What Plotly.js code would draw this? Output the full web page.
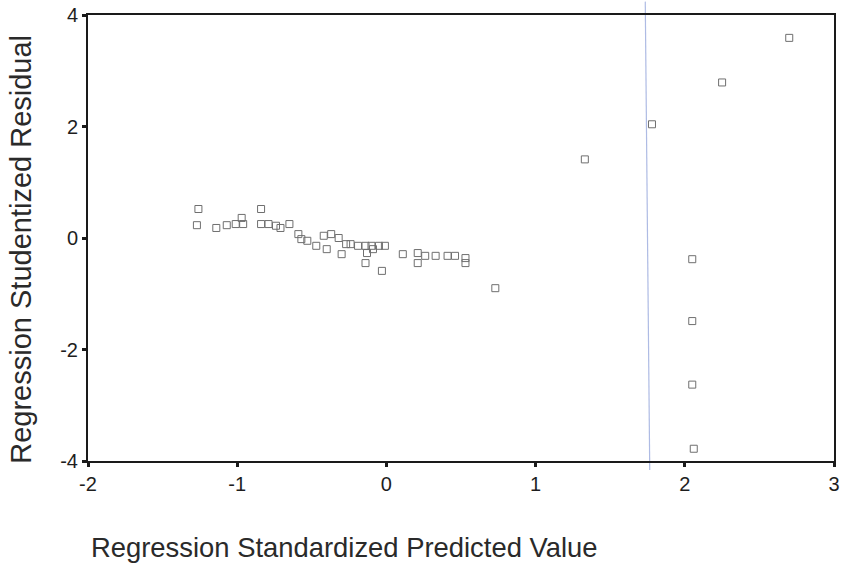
<!DOCTYPE html>
<html>
<head>
<meta charset="utf-8">
<script src="https://cdn.plot.ly/plotly-3.0.1.min.js"></script>
<style>
  html, body { margin: 0; padding: 0; background: #ffffff; }
  #chart { width: 842px; height: 563px; }
</style>
</head>
<body>
<div id="chart"></div>
<script>
// Regression Standardized Predicted Value (x) vs Regression Studentized Residual (y)
var predictedValue = [
  -1.26, -1.27, -1.14, -1.07, -1.01, -0.97, -0.96, -0.84, -0.84, -0.79,
  -0.74, -0.71, -0.65, -0.59, -0.57, -0.53, -0.47, -0.42, -0.40, -0.37,
  -0.32, -0.30, -0.27, -0.24, -0.19, -0.14, -0.13, -0.14, -0.10, -0.09,
  -0.05, -0.01, -0.03, 0.11, 0.21, 0.21, 0.26, 0.33, 0.41, 0.46,
  0.53, 0.53, 0.73, 1.33, 1.78, 2.25, 2.70, 2.05, 2.05, 2.05, 2.06
];
var studentizedResidual = [
  0.52, 0.23, 0.18, 0.23, 0.25, 0.36, 0.25, 0.52, 0.25, 0.25,
  0.22, 0.18, 0.25, 0.07, -0.02, -0.05, -0.14, 0.04, -0.20, 0.07,
  0.00, -0.29, -0.11, -0.11, -0.14, -0.14, -0.27, -0.45, -0.14, -0.20,
  -0.14, -0.14, -0.59, -0.29, -0.27, -0.45, -0.32, -0.32, -0.32, -0.32,
  -0.36, -0.45, -0.90, 1.41, 2.04, 2.79, 3.59, -0.38, -1.49, -2.63, -3.78
];
var xTickValues = [-2, -1, 0, 1, 2, 3];
var yTickValues = [-4, -2, 0, 2, 4];
var xTitle = "Regression Standardized Predicted Value";
var yTitle = "Regression Studentized Residual";

var trace = {
  x: predictedValue,
  y: studentizedResidual,
  type: "scatter",
  mode: "markers",
  marker: {
    symbol: "square-open",
    size: 7,
    color: "#6f6f6f",
    line: { width: 1, color: "#6f6f6f" }
  },
  hoverinfo: "x+y",
  showlegend: false
};

var fontFam = "Liberation Sans, Arial, sans-serif";

var layout = {
  width: 842,
  height: 563,
  margin: { l: 88, r: 8, t: 15, b: 102, pad: 0 },
  paper_bgcolor: "#ffffff",
  plot_bgcolor: "#ffffff",
  font: { family: fontFam, color: "#222222" },
  xaxis: {
    range: [-2, 3],
    tickvals: xTickValues,
    ticktext: xTickValues.map(String),
    ticks: "outside",
    ticklen: 4,
    tickwidth: 3,
    tickcolor: "#1a1a1a",
    showline: true,
    linecolor: "#1a1a1a",
    linewidth: 2,
    mirror: true,
    showgrid: false,
    zeroline: false,
    ticklabeloverflow: "allow",
    tickfont: { family: fontFam, size: 20, color: "#1e1e1e" },
    fixedrange: true
  },
  yaxis: {
    range: [-4, 4],
    tickvals: yTickValues,
    ticktext: yTickValues.map(String),
    ticks: "outside",
    ticklen: 4,
    tickwidth: 3,
    tickcolor: "#1a1a1a",
    showline: true,
    linecolor: "#1a1a1a",
    linewidth: 2,
    mirror: true,
    showgrid: false,
    zeroline: false,
    ticklabeloverflow: "allow",
    tickfont: { family: fontFam, size: 20, color: "#1e1e1e" },
    fixedrange: true
  },
  shapes: [
    {
      type: "line",
      xref: "paper", yref: "paper",
      x0: 0.747, y0: 1.03, x1: 0.753, y1: -0.02,
      line: { color: "#aebbe4", width: 1.2 },
      layer: "below"
    }
  ],
  annotations: [
    {
      text: yTitle,
      xref: "paper", yref: "paper",
      x: -0.089, y: 0.475,
      xanchor: "center", yanchor: "middle",
      textangle: -90,
      showarrow: false,
      font: { family: fontFam, size: 29, color: "#2a2a2a" }
    },
    {
      text: xTitle,
      xref: "paper", yref: "paper",
      x: 0.002, y: -0.193,
      xanchor: "left", yanchor: "middle",
      showarrow: false,
      font: { family: fontFam, size: 27.4, color: "#2a2a2a" }
    }
  ]
};

Plotly.newPlot("chart", [trace], layout, { displayModeBar: false, staticPlot: true });
</script>
</body>
</html>
